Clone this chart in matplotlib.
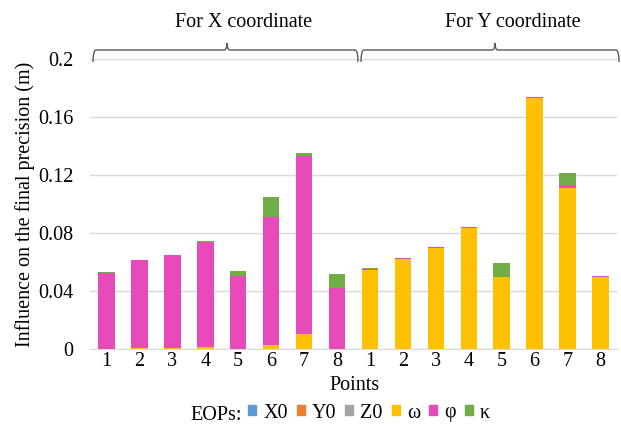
import matplotlib
matplotlib.use("Agg")
import matplotlib.pyplot as plt
import numpy as np
from matplotlib.path import Path
from matplotlib.patches import PathPatch, Patch

plt.rcParams['font.family'] = ['Liberation Serif', 'DejaVu Serif']

# 8 points for X coordinate, then 8 points for Y coordinate
point_labels = ['1', '2', '3', '4', '5', '6', '7', '8'] * 2
series_names = ['X0', 'Y0', 'Z0', 'ω', 'φ', 'κ']
colors = ['#5B9BD5', '#ED7D31', '#A5A5A5', '#FFC000', '#E64BB9', '#70AD47']

x0_vals = [0] * 16
y0_vals = [0] * 16
z0_vals = [0] * 16
omega_vals = [0.0002, 0.0004, 0.0005, 0.0015, 0.0003, 0.003, 0.0105, 0.0002,
              0.0548, 0.0620, 0.0700, 0.0836, 0.0499, 0.1728, 0.1113, 0.0500]
phi_vals = [0.0520, 0.0608, 0.0641, 0.0720, 0.0501, 0.0881, 0.1223, 0.0422,
            0.0002, 0.0005, 0.0004, 0.0004, 0.0, 0.0008, 0.0018, 0.0006]
kappa_vals = [0.0010, 0.0002, 0.0002, 0.0012, 0.0034, 0.0134, 0.0026, 0.0094,
              0.0007, 0.0, 0.0001, 0.0001, 0.0092, 0.0, 0.0086, 0.0]

yticks = [0, 0.04, 0.08, 0.12, 0.16, 0.2]
ytick_labels = ['0', '0.04', '0.08', '0.12', '0.16', '0.2']

W, H = 621, 428
FS = 14.5
fig = plt.figure(figsize=(W / 100, H / 100), dpi=100)
ax = fig.add_axes([90 / W, 1 - 349 / H, 527 / W, 290 / H])

x = np.arange(16)
bottom = np.zeros(16)
for vals, c in zip([x0_vals, y0_vals, z0_vals, omega_vals, phi_vals, kappa_vals], colors):
    v = np.array(vals, dtype=float)
    ax.bar(x, v, width=0.5, bottom=bottom, color=c, zorder=3)
    bottom += v

ax.set_xlim(-0.5, 15.5)
ax.set_ylim(0, 0.2)
ax.set_yticks(yticks)
ax.set_yticklabels(ytick_labels, fontsize=FS)
ax.set_xticks(x)
ax.set_xticklabels(point_labels, fontsize=FS)
ax.tick_params(length=0)
ax.tick_params(axis='x', pad=2)
ax.tick_params(axis='y', pad=12)
ax.grid(axis='y', color='#D9D9D9', lw=1, zorder=0)
for s in ['top', 'right', 'left']:
    ax.spines[s].set_visible(False)
ax.spines['bottom'].set_color('#D9D9D9')

fig.text(355 / W, 1 - 390 / H, 'Points', ha='center', va='baseline', fontsize=FS)
fig.text(25 / W, 1 - 204 / H, 'Influence on the final precision (m)', ha='center', va='center',
         rotation=90, fontsize=FS)


# braces above the two groups (pixel coords, y downward)
def brace(xa, xb, xt, yl=50, yend=62, ytip=43):
    pts = [(xa, yend), (xa, yl), (xa + 3, yl), (xt - 3, yl), (xt, yl), (xt, ytip),
           (xt, yl), (xt + 3, yl), (xb - 3, yl), (xb, yl), (xb, yend)]
    codes = [Path.MOVETO, Path.CURVE3, Path.CURVE3, Path.LINETO, Path.CURVE3, Path.CURVE3,
             Path.CURVE3, Path.CURVE3, Path.LINETO, Path.CURVE3, Path.CURVE3]
    pts = [(px / W, 1 - py / H) for px, py in pts]
    fig.add_artist(PathPatch(Path(pts, codes), fill=False, ec='#595959', lw=1,
                             transform=fig.transFigure))


brace(93, 358, 227)
brace(361, 619, 495)
fig.text(244 / W, 1 - 27 / H, 'For X coordinate', ha='center', va='baseline', fontsize=FS)
fig.text(513 / W, 1 - 27 / H, 'For Y coordinate', ha='center', va='baseline', fontsize=FS)

handles = [Patch(color=c, label=n) for c, n in zip(colors, series_names)]
fig.text(242 / W, 1 - 420 / H, 'EOPs:', ha='right', va='baseline', fontsize=FS)
fig.legend(handles=handles, loc='center left', bbox_to_anchor=(248 / W, 1 - 413 / H), ncol=6,
           frameon=False, fontsize=FS, handlelength=0.4, handleheight=0.4,
           handletextpad=0.35, columnspacing=0.45, borderaxespad=0, borderpad=0)

fig.savefig('out.png', dpi=100)
